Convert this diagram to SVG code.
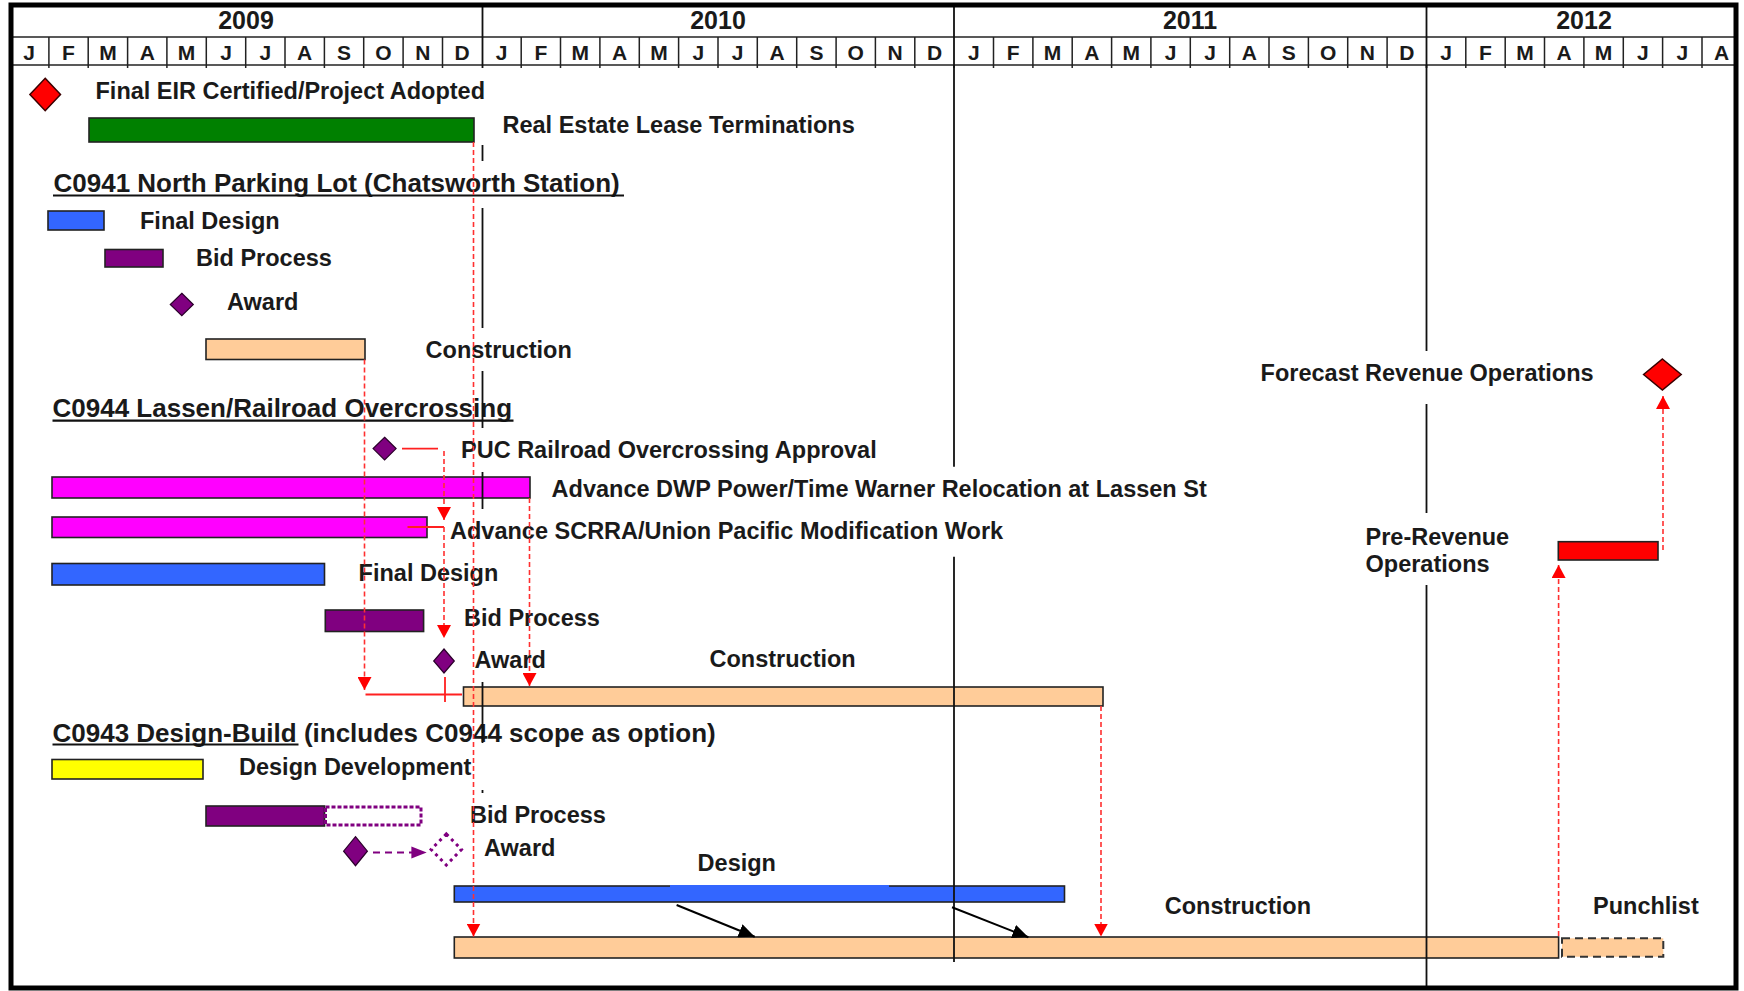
<svg xmlns="http://www.w3.org/2000/svg" width="1744" height="991" viewBox="0 0 1744 991">
<style>
text{font-family:"Liberation Sans",Arial,sans-serif;fill:#1a1a1a}
.lbl{font-size:23.5px;font-weight:bold}
.hd{font-size:26px;font-weight:bold}
.yr{font-size:25px;font-weight:bold;text-anchor:middle}
.mo{font-size:21px;font-weight:bold;text-anchor:middle}
.bar{stroke:#222;stroke-width:1.6}
.grid{stroke:#222;stroke-width:1.5;fill:none}
.yl{stroke:#111;stroke-width:1.8;fill:none}
.rd{stroke:#ff3030;stroke-width:1.6;stroke-dasharray:5 3;fill:none}
.rs{stroke:#ff2020;stroke-width:1.8;fill:none}
.ul{stroke:#111;stroke-width:2.2}
</style>
<defs>
<marker id="ra" markerUnits="userSpaceOnUse" markerWidth="14" markerHeight="14" viewBox="0 -7 14 14" refX="13" refY="0" orient="auto">
<path d="M0,-7 L13,0 L0,7 z" fill="#ff0000"/>
</marker>
<marker id="ba" markerUnits="userSpaceOnUse" markerWidth="17" markerHeight="14" viewBox="0 -7 17 14" refX="16" refY="0" orient="auto">
<path d="M0,-7 L16,0 L0,7 z" fill="#000"/>
</marker>
</defs>
<rect x="0" y="0" width="1744" height="991" fill="#fff"/>

<g id="header">
<line class="grid" x1="11" y1="37" x2="1736" y2="37"/>
<line class="grid" x1="11" y1="65" x2="1736" y2="65"/>
<g class="grid">
<path d="M48.9,37V68M88.2,37V68M127.6,37V68M166.9,37V68M206.3,37V68M245.7,37V68M285,37V68M324.4,37V68M363.7,37V68M403.1,37V68M442.5,37V68
M521.2,37V68M560.5,37V68M599.9,37V68M639.3,37V68M678.6,37V68M718,37V68M757.3,37V68M796.7,37V68M836.1,37V68M875.4,37V68M914.8,37V68
M993.5,37V68M1032.9,37V68M1072.2,37V68M1111.6,37V68M1150.9,37V68M1190.3,37V68M1229.7,37V68M1269,37V68M1308.4,37V68M1347.7,37V68M1387.1,37V68
M1465.8,37V68M1505.2,37V68M1544.5,37V68M1583.9,37V68M1623.3,37V68M1662.6,37V68M1702,37V68"/>
</g>
<g class="yl">
<path d="M482.5,5V68M954,5V68M1426.5,5V68"/>
</g>
<text class="yr" x="246" y="29">2009</text>
<text class="yr" x="718" y="29">2010</text>
<text class="yr" x="1190" y="29">2011</text>
<text class="yr" x="1584" y="29">2012</text>
<g class="mo-row">
<text class="mo" x="29.2" y="60">J</text><text class="mo" x="68.5" y="60">F</text><text class="mo" x="107.9" y="60">M</text><text class="mo" x="147.3" y="60">A</text><text class="mo" x="186.6" y="60">M</text><text class="mo" x="226" y="60">J</text><text class="mo" x="265.3" y="60">J</text><text class="mo" x="304.7" y="60">A</text><text class="mo" x="344.1" y="60">S</text><text class="mo" x="383.4" y="60">O</text><text class="mo" x="422.8" y="60">N</text><text class="mo" x="462.1" y="60">D</text>
<text class="mo" x="501.5" y="60">J</text><text class="mo" x="540.9" y="60">F</text><text class="mo" x="580.2" y="60">M</text><text class="mo" x="619.6" y="60">A</text><text class="mo" x="658.9" y="60">M</text><text class="mo" x="698.3" y="60">J</text><text class="mo" x="737.7" y="60">J</text><text class="mo" x="777" y="60">A</text><text class="mo" x="816.4" y="60">S</text><text class="mo" x="855.7" y="60">O</text><text class="mo" x="895.1" y="60">N</text><text class="mo" x="934.5" y="60">D</text>
<text class="mo" x="973.8" y="60">J</text><text class="mo" x="1013.2" y="60">F</text><text class="mo" x="1052.5" y="60">M</text><text class="mo" x="1091.9" y="60">A</text><text class="mo" x="1131.3" y="60">M</text><text class="mo" x="1170.6" y="60">J</text><text class="mo" x="1210" y="60">J</text><text class="mo" x="1249.3" y="60">A</text><text class="mo" x="1288.7" y="60">S</text><text class="mo" x="1328.1" y="60">O</text><text class="mo" x="1367.4" y="60">N</text><text class="mo" x="1406.8" y="60">D</text>
<text class="mo" x="1446.1" y="60">J</text><text class="mo" x="1485.5" y="60">F</text><text class="mo" x="1524.9" y="60">M</text><text class="mo" x="1564.2" y="60">A</text><text class="mo" x="1603.6" y="60">M</text><text class="mo" x="1642.9" y="60">J</text><text class="mo" x="1682.3" y="60">J</text><text class="mo" x="1721.7" y="60">A</text>
</g>
</g>

<g id="node-final-eir">
<polygon points="45.2,78.3 60.5,94.5 45.2,110.7 29.9,94.5" fill="#ff0000" stroke="#3a0000" stroke-width="1.5"/>
<text class="lbl" x="95.5" y="99">Final EIR Certified/Project Adopted</text>
</g>
<g id="node-lease">
<rect class="bar" x="89" y="118" width="385" height="24" fill="#008000" stroke="#1a5a1a"/>
<text class="lbl" x="502.5" y="133">Real Estate Lease Terminations</text>
</g>

<g id="section-c0941">
<text class="hd" x="53.5" y="192">C0941 North Parking Lot (Chatsworth Station)</text>
<line class="ul" x1="53" y1="195.5" x2="624" y2="195.5"/>
</g>
<g id="node-c0941-design">
<rect class="bar" x="48" y="211" width="56" height="19" fill="#3366ff"/>
<text class="lbl" x="140" y="229">Final Design</text>
</g>
<g id="node-c0941-bid">
<rect class="bar" x="105" y="249.5" width="58" height="17.5" fill="#800080"/>
<text class="lbl" x="196" y="266">Bid Process</text>
</g>
<g id="node-c0941-award">
<polygon points="181.8,293.3 193.3,304.5 181.8,315.7 170.3,304.5" fill="#800080" stroke="#2a002a" stroke-width="1.2"/>
<text class="lbl" x="227" y="310">Award</text>
</g>
<g id="node-c0941-construction">
<rect class="bar" x="206" y="339" width="159" height="20.5" fill="#ffcc99"/>
<text class="lbl" x="425.6" y="358">Construction</text>
</g>

<g id="section-c0944">
<text class="hd" x="52.5" y="417">C0944 Lassen/Railroad Overcrossing</text>
<line class="ul" x1="52.5" y1="420.7" x2="513.5" y2="420.7"/>
</g>
<g id="node-puc">
<polygon points="384.6,437.3 396.1,448.6 384.6,459.9 373.1,448.6" fill="#800080" stroke="#2a002a" stroke-width="1.2"/>
<text class="lbl" x="461" y="457.7">PUC Railroad Overcrossing Approval</text>
</g>
<g id="node-dwp">
<rect class="bar" x="52" y="477" width="478" height="21" fill="#ff00ff"/>
<text class="lbl" x="551.6" y="497">Advance DWP Power/Time Warner Relocation at Lassen St</text>
</g>
<g id="node-scrra">
<rect class="bar" x="52" y="517" width="375" height="20.5" fill="#ff00ff"/>
<text class="lbl" x="450" y="539">Advance SCRRA/Union Pacific Modification Work</text>
</g>
<g id="node-c0944-design">
<rect class="bar" x="52" y="563.5" width="272.5" height="21.5" fill="#3366ff"/>
<text class="lbl" x="358.6" y="581">Final Design</text>
</g>
<g id="node-c0944-bid">
<rect class="bar" x="325.3" y="610" width="98.3" height="21.5" fill="#800080"/>
<text class="lbl" x="464" y="626">Bid Process</text>
</g>
<g id="node-c0944-award">
<polygon points="444,649 454.3,661 444,673 433.7,661" fill="#800080" stroke="#2a002a" stroke-width="1.2"/>
<text class="lbl" x="474.5" y="668">Award</text>
</g>
<g id="node-c0944-construction">
<rect class="bar" x="463.5" y="687" width="639.5" height="19" fill="#ffcc99"/>
<text class="lbl" x="709.5" y="667">Construction</text>
</g>

<g id="section-c0943">
<text class="hd" x="52.5" y="742">C0943 Design-Build (includes C0944 scope as option)</text>
<line class="ul" x1="52.5" y1="744.5" x2="298.5" y2="744.5"/>
</g>
<g id="node-c0943-dd">
<rect class="bar" x="52" y="759.5" width="151" height="19.5" fill="#ffff00"/>
<text class="lbl" x="239" y="775">Design Development</text>
</g>
<g id="node-c0943-bid">
<rect class="bar" x="206" y="806" width="118.5" height="20" fill="#800080"/>
<rect x="325.5" y="807" width="95.5" height="18" fill="none" stroke="#800080" stroke-width="3" stroke-dasharray="4 2"/>
<text class="lbl" x="470" y="823">Bid Process</text>
</g>
<g id="node-c0943-award">
<polygon points="355.5,836.7 367.4,851.2 355.5,865.7 343.6,851.2" fill="#800080" stroke="#2a002a" stroke-width="1.2"/>
<polygon points="446.3,834 461.5,849.5 446.3,865 431.1,849.5" fill="none" stroke="#800080" stroke-width="3" stroke-dasharray="3 4"/>
<text class="lbl" x="484" y="856">Award</text>
</g>
<g id="node-c0943-design">
<rect class="bar" x="454.3" y="886" width="610.2" height="16" fill="#3366ff"/>
<line x1="670" y1="886" x2="889" y2="886" stroke="#3366ff" stroke-width="2.2"/>
<text class="lbl" x="697.6" y="870.7">Design</text>
</g>
<g id="node-c0943-construction">
<rect class="bar" x="454.3" y="937" width="1104.3" height="21" fill="#ffcc99"/>
<text class="lbl" x="1164.8" y="914">Construction</text>
</g>
<g id="node-punchlist">
<rect x="1562" y="938.3" width="101.3" height="18.4" fill="#ffcc99" stroke="#333" stroke-width="2" stroke-dasharray="8 5"/>
<text class="lbl" x="1593" y="914">Punchlist</text>
</g>
<g id="node-forecast">
<polygon points="1662.4,359 1681.2,374.5 1662.4,390 1643.6,374.5" fill="#ff0000" stroke="#3a0000" stroke-width="1.5"/>
<text class="lbl" x="1260.6" y="381">Forecast Revenue Operations</text>
</g>
<g id="node-prerevenue">
<rect class="bar" x="1558.3" y="541.7" width="99.7" height="18.3" fill="#ff0000"/>
<text class="lbl" x="1365.5" y="545">Pre-Revenue</text>
<text class="lbl" x="1365.5" y="572">Operations</text>
</g>

<g id="year-lines" class="yl">
<path d="M482.5,145V161M482.5,208V328M482.5,371V428M482.5,472V509M482.5,682V743M482.5,790V793"/>
<path d="M954,65V466.7M954,556.7V962"/>
<path d="M1426.5,65V351M1426.5,404V513M1426.5,585V988"/>
</g>

<g id="connectors">
<path class="rd" d="M473.5,142V936.5" marker-end="url(#ra)"/>
<path class="rd" d="M364.5,359.5V690" marker-end="url(#ra)"/>
<path class="rs" d="M365.5,694.5H462M445,677V702"/>
<path class="rs" d="M402,448.6H438"/>
<path class="rd" d="M444,451V520" marker-end="url(#ra)"/>
<path class="rs" d="M407.5,527H444"/>
<path class="rd" d="M444,527V638" marker-end="url(#ra)"/>
<path class="rd" d="M529.5,498V686" marker-end="url(#ra)"/>
<path class="rd" d="M1101,706V936.5" marker-end="url(#ra)"/>
<path class="rd" d="M1558.6,936V565" marker-end="url(#ra)"/>
<path class="rd" d="M1663,550V396" marker-end="url(#ra)"/>
<path d="M373,852.5H412" stroke="#800080" stroke-width="2.2" stroke-dasharray="7 5" fill="none"/>
<polygon points="411.4,846.5 426.7,852.5 411.4,858.5" fill="#800080"/>
<path d="M676.6,905L754.7,936.7" stroke="#000" stroke-width="2" fill="none" marker-end="url(#ba)"/>
<path d="M952,907.3L1028.4,937.3" stroke="#000" stroke-width="2" fill="none" marker-end="url(#ba)"/>
</g>

<rect id="frame" x="11" y="5" width="1725" height="983" fill="none" stroke="#000" stroke-width="5"/>
</svg>
